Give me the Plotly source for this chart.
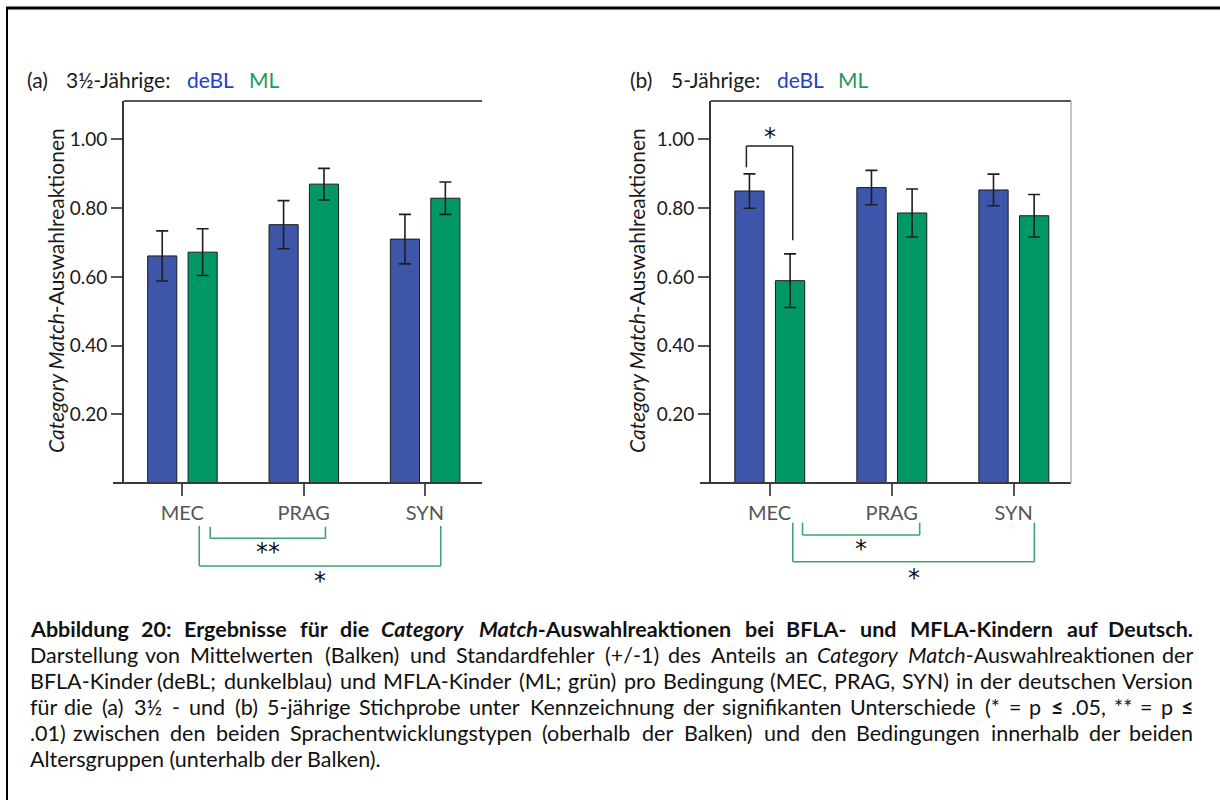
import re
import plotly.graph_objects as go

# ---------------------------------------------------------------- data
conditions = ["MEC", "PRAG", "SYN"]

# 3½-year-olds: mean proportion of Category Match choices and standard error
young_debl_mean = [0.661, 0.752, 0.710]
young_debl_se = [0.073, 0.070, 0.072]
young_ml_mean = [0.672, 0.870, 0.829]
young_ml_se = [0.068, 0.046, 0.047]

# 5-year-olds
old_debl_mean = [0.850, 0.860, 0.853]
old_debl_se = [0.050, 0.050, 0.046]
old_ml_mean = [0.589, 0.786, 0.778]
old_ml_se = [0.078, 0.070, 0.062]

y_ticks = [0.2, 0.4, 0.6, 0.8, 1.0]

# significant differences between conditions (drawn below the axes)
young_condition_tests = [("MEC", "PRAG", "**"), ("MEC", "SYN", "*")]
old_condition_tests = [("MEC", "PRAG", "*"), ("MEC", "SYN", "*")]
# significant difference between groups (drawn above the bars)
old_group_tests = [("MEC", "*")]

caption_lines = [
    "<b>Abbildung 20: Ergebnisse für die <i>Category Match</i>-Auswahlreaktionen bei BFLA- und MFLA-Kindern auf Deutsch.</b>",
    "Darstellung von Mittelwerten (Balken) und Standardfehler (+/-1) des Anteils an <i>Category Match</i>-Auswahlreaktionen der",
    "BFLA-Kinder (deBL; dunkelblau) und MFLA-Kinder (ML; grün) pro Bedingung (MEC, PRAG, SYN) in der deutschen Version",
    "für die (a) 3½ - und (b) 5-jährige Stichprobe unter Kennzeichnung der signifikanten Unterschiede (* = p <b>≤</b> .05, ** = p <b>≤</b>",
    ".01) zwischen den beiden Sprachentwicklungstypen (oberhalb der Balken) und den Bedingungen innerhalb der beiden",
    "Altersgruppen (unterhalb der Balken).",
]

# ---------------------------------------------------------------- style
W, H = 1220, 800
BLUE_BAR = "#3d56a9"
GREEN_BAR = "#009865"
BLUE_TXT = "#2340c8"
GREEN_TXT = "#1e9a5c"
BRACKET_GREEN = "#3da472"
FONT = "Lato"
STAR_FONT = dict(family="DejaVu Sans", size=24, color="#111")


def px_x(x):
    return x / W


def px_y(y):
    return 1 - y / H


Y_BOT, Y_TOP = px_y(483), px_y(101)
DOM_A = [px_x(124), px_x(482)]
DOM_B = [px_x(711), px_x(1071)]
Y_RANGE = [0, 1.112]
X_RANGE = [-0.48, 2.47]

fig = go.Figure()


def add_bars(mean_debl, se_debl, mean_ml, se_ml, xa, ya):
    for mean, se, color, off in (
        (mean_debl, se_debl, BLUE_BAR, -0.285),
        (mean_ml, se_ml, GREEN_BAR, 0.048),
    ):
        fig.add_trace(go.Bar(
            x=conditions, y=mean, xaxis=xa, yaxis=ya,
            offset=off, width=0.24,
            marker=dict(color=color, line=dict(color="#1c1c1c", width=1)),
            error_y=dict(type="data", array=se, color="#1e1e1e",
                         thickness=1.6, width=6),
            showlegend=False, hoverinfo="skip",
        ))


add_bars(young_debl_mean, young_debl_se, young_ml_mean, young_ml_se, "x", "y")
add_bars(old_debl_mean, old_debl_se, old_ml_mean, old_ml_se, "x2", "y2")


def yaxis(anchor):
    return dict(
        domain=[Y_BOT, Y_TOP], range=Y_RANGE, anchor=anchor,
        tickvals=y_ticks, ticktext=[f"{v:.2f}" for v in y_ticks],
        ticks="outside", ticklen=11, tickwidth=2, tickcolor="#555",
        showline=True, linecolor="#333", linewidth=2,
        showgrid=False, zeroline=False,
        tickfont=dict(family=FONT, size=19, color="#1a1a1a"),
        fixedrange=True,
    )


def xaxis(domain, anchor):
    return dict(
        domain=domain, range=X_RANGE, anchor=anchor, type="category",
        categoryorder="array", categoryarray=conditions,
        ticks="outside", ticklen=12, tickwidth=2, tickcolor="#555",
        showline=False, showgrid=False, zeroline=False,
        tickfont=dict(family=FONT, size=20, color="#555"),
        fixedrange=True,
    )


fig.update_layout(
    width=W, height=H,
    margin=dict(l=0, r=0, t=0, b=0),
    paper_bgcolor="white", plot_bgcolor="white",
    barmode="overlay",
    xaxis=xaxis(DOM_A, "y"), yaxis=yaxis("x"),
    xaxis2=xaxis(DOM_B, "y2"), yaxis2=yaxis("x2"),
    showlegend=False,
)

shapes = []
# outer frame (top and left edges)
shapes.append(dict(type="line", xref="paper", yref="paper",
                   x0=px_x(6), x1=1, y0=px_y(8), y1=px_y(8),
                   line=dict(color="#000", width=3)))
shapes.append(dict(type="line", xref="paper", yref="paper",
                   x0=px_x(7), x1=px_x(7), y0=px_y(8), y1=0,
                   line=dict(color="#000", width=2)))

# plot frames and baselines
for xd, yd, span, right in (("x domain", "y domain", 358, False),
                            ("x2 domain", "y2 domain", 360, True)):
    shapes.append(dict(type="line", xref=xd, yref=yd, x0=0, x1=1, y0=1, y1=1,
                       line=dict(color="#555", width=2)))
    shapes.append(dict(type="line", xref=xd, yref=yd, x0=-11 / span, x1=1,
                       y0=0, y1=0, line=dict(color="#3a3a3a", width=2)))
    if right:
        shapes.append(dict(type="line", xref=xd, yref=yd, x0=1, x1=1,
                           y0=0, y1=1, line=dict(color="#b0b0b0", width=1.5)))

annotations = []


def cond_index(c):
    return conditions.index(c)


def condition_brackets(tests, xa, offsets, tops, lows, star_ys):
    for (c0, c1, stars), (o0, o1), top, low, sy in zip(tests, offsets, tops, lows, star_ys):
        xa0 = cond_index(c0) + o0
        xa1 = cond_index(c1) + o1
        pts = [(xa0, top), (xa0, low), (xa1, low), (xa1, top)]
        for p0, p1 in zip(pts[:-1], pts[1:]):
            shapes.append(dict(type="line", xref=xa, yref="paper",
                               x0=p0[0], x1=p1[0], y0=px_y(p0[1]), y1=px_y(p1[1]),
                               line=dict(color=BRACKET_GREEN, width=1.6)))
        annotations.append(dict(xref=xa, yref="paper", x=(xa0 + xa1) / 2,
                                y=px_y(sy), text=stars, showarrow=False,
                                font=STAR_FONT, xanchor="center", yanchor="middle"))


condition_brackets(young_condition_tests, "x", [(0.23, 0.18), (0.14, 0.13)],
                   [526.7, 526], [538.3, 566], [552, 581])
condition_brackets(old_condition_tests, "x2", [(0.27, 0.23), (0.19, 0.17)],
                   [522.7, 522.7], [535, 561.7], [549, 578])

# group comparison above the bars of the 5-year-olds
for cond, stars in old_group_tests:
    i = cond_index(cond)
    left, right = i - 0.19, i + 0.19
    for x0, y0, x1, y1 in ((left, 0.919, left, 0.981), (left, 0.981, right, 0.981),
                           (right, 0.981, right, 0.707)):
        shapes.append(dict(type="line", xref="x2", yref="y2", x0=x0, x1=x1,
                           y0=y0, y1=y1, line=dict(color="#222", width=1.5)))
    annotations.append(dict(xref="x2", yref="y2", x=i, y=1.008, text=stars,
                            showarrow=False, xanchor="center", yanchor="middle",
                            font=STAR_FONT))

# panel titles
for items in (
    [(25, "(a)", "#1a1a1a"), (64, "3½-Jährige:", "#1a1a1a"), (185, "deBL", BLUE_TXT), (247, "ML", GREEN_TXT)],
    [(628, "(b)", "#1a1a1a"), (669, "5-Jährige:", "#1a1a1a"), (775, "deBL", BLUE_TXT), (836, "ML", GREEN_TXT)],
):
    for x, text, color in items:
        annotations.append(dict(xref="paper", yref="paper", x=px_x(x), y=px_y(79),
                                text=text, showarrow=False, xanchor="left",
                                yanchor="middle",
                                font=dict(family=FONT, size=21, color=color)))

# y-axis titles
for x in (55, 636):
    annotations.append(dict(xref="paper", yref="paper", x=px_x(x), y=px_y(291),
                            text="<i>Category Match</i>-Auswahlreaktionen",
                            textangle=-90, showarrow=False,
                            xanchor="center", yanchor="middle",
                            font=dict(family=FONT, size=21, color="#1a1a1a")))

# ---------------------------------------------------------------- caption
# approximate advance widths (em) of the caption font, used to justify lines
GLYPH_EM = {
    " ": 0.193, "a": 0.469, "b": 0.567, "c": 0.465, "d": 0.567, "e": 0.517,
    "f": 0.338, "g": 0.506, "h": 0.565, "i": 0.24, "j": 0.24, "k": 0.51,
    "l": 0.24, "m": 0.845, "n": 0.565, "o": 0.57, "p": 0.564, "q": 0.567,
    "r": 0.377, "s": 0.42, "t": 0.354, "u": 0.565, "v": 0.5, "w": 0.763,
    "x": 0.49, "y": 0.5, "z": 0.45, "ä": 0.469, "ö": 0.57, "ü": 0.565,
    "A": 0.68, "B": 0.64, "C": 0.66, "D": 0.74, "E": 0.56, "F": 0.56,
    "G": 0.72, "H": 0.76, "I": 0.29, "J": 0.38, "K": 0.68, "L": 0.5,
    "M": 0.93, "N": 0.76, "O": 0.8, "P": 0.59, "Q": 0.8, "R": 0.62,
    "S": 0.53, "T": 0.57, "U": 0.73, "V": 0.68, "W": 1.02, "X": 0.65,
    "Y": 0.62, "Z": 0.6, ".": 0.2, ",": 0.2, ":": 0.22, ";": 0.22,
    "(": 0.3, ")": 0.3, "-": 0.37, "/": 0.38, "+": 0.58, "=": 0.58,
    "*": 0.42, "≤": 0.58, "½": 0.86,
}
CAP_SIZE = 21.5
CAP_LEFT, CAP_RIGHT = 28, 1195
CAP_TOP, CAP_STEP = 629, 26


def split_words(line):
    """Split a marked-up line into words, keeping <b>/<i> tags balanced."""
    open_tags, out = [], []
    for w in line.split(" "):
        prefix = "".join(f"<{t}>" for t in open_tags)
        for m in re.finditer(r"<(/?)([bi])>", w):
            if m.group(1):
                open_tags.remove(m.group(2))
            else:
                open_tags.append(m.group(2))
        suffix = "".join(f"</{t}>" for t in reversed(open_tags))
        out.append(prefix + w + suffix)
    return out


def word_width(word):
    total, bold, italic = 0.0, False, False
    for token in re.split(r"(<[^>]+>)", word):
        if token in ("<b>", "</b>", "<i>", "</i>"):
            if token[1] == "/":
                bold = bold and token != "</b>"
                italic = italic and token != "</i>"
            else:
                bold = bold or token == "<b>"
                italic = italic or token == "<i>"
            continue
        scale = (1.05 if bold else 1.0) * (0.95 if italic else 1.0)
        total += scale * sum(GLYPH_EM.get(ch, 0.58) for ch in token)
    return total * CAP_SIZE


cap_font = dict(family=FONT, size=CAP_SIZE, color="#111")
for k, line in enumerate(caption_lines):
    y = px_y(CAP_TOP + CAP_STEP * k)
    if k == len(caption_lines) - 1:
        annotations.append(dict(xref="paper", yref="paper", x=px_x(CAP_LEFT), y=y,
                                text=line, showarrow=False, xanchor="left",
                                yanchor="middle", font=cap_font))
        continue
    words = split_words(line)
    widths = [word_width(w) for w in words]
    gap = (CAP_RIGHT - CAP_LEFT - sum(widths)) / (len(words) - 1)
    pos = CAP_LEFT
    for j, (w, wd) in enumerate(zip(words, widths)):
        if j == 0:
            x, anchor = pos, "left"
        elif j == len(words) - 1:
            x, anchor = CAP_RIGHT, "right"
        else:
            x, anchor = pos + wd / 2, "center"
        annotations.append(dict(xref="paper", yref="paper", x=px_x(x), y=y,
                                text=w, showarrow=False, xanchor=anchor,
                                yanchor="middle", font=cap_font))
        pos += wd + gap

fig.update_layout(shapes=shapes, annotations=annotations)
fig.write_html("out.html")
